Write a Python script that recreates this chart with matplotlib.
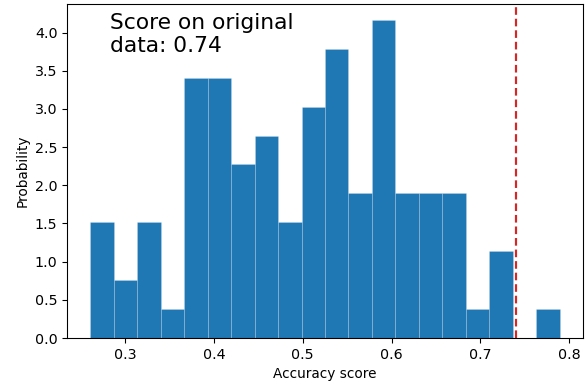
import numpy as np
import matplotlib
matplotlib.use('Agg')
import matplotlib.pyplot as plt

# permutation scores, binned: 20 equal bins between the min and max score
bin_min = 0.261
bin_max = 0.789
bin_counts = [4, 2, 4, 1, 9, 9, 6, 7, 4, 8, 10, 5, 11, 5, 5, 5, 1, 3, 0, 1]
original_score = 0.74

edges = np.linspace(bin_min, bin_max, len(bin_counts) + 1)
centers = (edges[:-1] + edges[1:]) / 2

fig, ax = plt.subplots(figsize=(6, 4), dpi=98)
fig.subplots_adjust(left=67 / 588, right=583 / 588, top=1 - 4 / 392, bottom=1 - 338 / 392)

ax.hist(centers, bins=edges, weights=bin_counts, density=True, color='tab:blue',
        edgecolor=(1, 1, 1, 0.25), linewidth=0.5)
ax.axvline(original_score, color='#d62728', lw=1.6, dashes=(3.5, 1.8))
ax.text(0.083, 0.973, f'Score on original\ndata: {original_score:.2f}', transform=ax.transAxes,
        fontsize=16, va='top', ha='left')

ax.set_xlabel('Accuracy score', fontsize=10)
ax.set_ylabel('Probability', fontsize=10)
ax.tick_params(labelsize=10.5)

fig.savefig('out.png', dpi=98)
